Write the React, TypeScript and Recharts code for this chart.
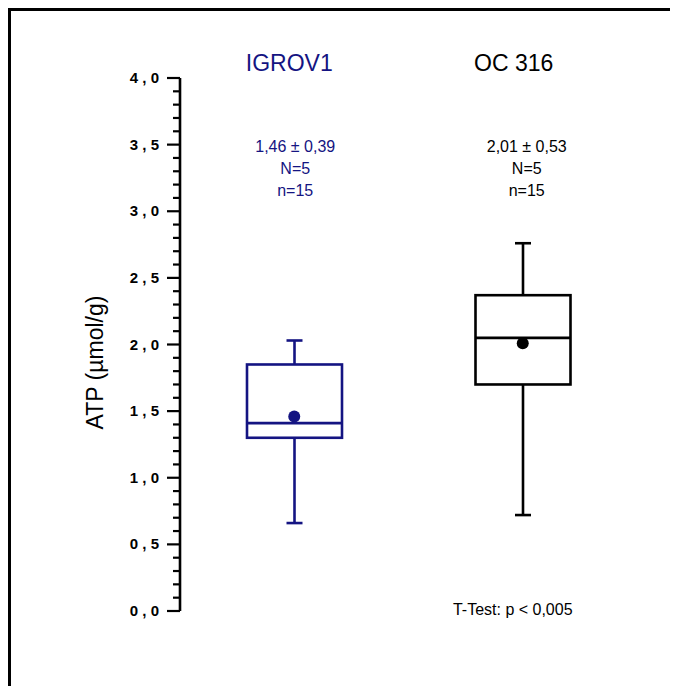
import React from "react";
import {
  ComposedChart,
  Bar,
  Scatter,
  XAxis,
  YAxis,
  ReferenceDot,
} from "recharts";

// cell lines
const categories = ["IGROV1", "OC 316"];
// box plot values (µmol/g)
const whiskerLow = [0.66, 0.72];
const q1 = [1.3, 1.7];
const median = [1.41, 2.05];
const q3 = [1.85, 2.37];
const whiskerHigh = [2.03, 2.76];
const means = [1.46, 2.01];
// annotation text above each box
const statLabels = ["1,46 ± 0,39", "2,01 ± 0,53"];
const bigN = ["N=5", "N=5"];
const smallN = ["n=15", "n=15"];
const testLabel = "T-Test: p < 0,005";
const yLabel = "ATP (µmol/g)";

const majorTicks = [0, 0.5, 1, 1.5, 2, 2.5, 3, 3.5, 4];
const allTicks: number[] = [];
for (let i = 0; i <= 40; i++) allTicks.push(i / 10);

const COLORS = ["#141482", "#000000"];
// small horizontal nudges for the header texts
const TITLE_DX = [-5, -9];
const STAT_DX = [1, 4];
const FONT = "'Liberation Sans', Arial, Helvetica, sans-serif";

const data = categories.map((name, i) => ({
  name,
  range: [whiskerLow[i], whiskerHigh[i]],
  low: whiskerLow[i],
  high: whiskerHigh[i],
  q1: q1[i],
  median: median[i],
  q3: q3[i],
  mean: means[i],
}));

function BoxShape(props: any) {
  const { x, y, width, height, payload, index } = props;
  const top = Math.min(y, y + height);
  const h = Math.abs(height);
  const { low, high } = payload;
  const py = (v: number) => top + ((high - v) / (high - low)) * h;
  const cx = x + width / 2;
  const color = COLORS[index] ?? "#000";
  const sw = 2.6;
  const cap = 8;
  return (
    <g>
      <line x1={cx} x2={cx} y1={py(high)} y2={py(low)} stroke={color} strokeWidth={sw} />
      <line x1={cx - cap} x2={cx + cap} y1={py(high)} y2={py(high)} stroke={color} strokeWidth={sw} />
      <line x1={cx - cap} x2={cx + cap} y1={py(low)} y2={py(low)} stroke={color} strokeWidth={sw} />
      <rect
        x={x}
        y={py(payload.q3)}
        width={width}
        height={py(payload.q1) - py(payload.q3)}
        fill="#fff"
        stroke={color}
        strokeWidth={sw}
      />
      <line x1={x} x2={x + width} y1={py(payload.median)} y2={py(payload.median)} stroke={color} strokeWidth={sw} />
    </g>
  );
}

function MeanDot(props: any) {
  const { cx, cy, index } = props;
  return <circle cx={cx} cy={cy} r={6} fill={COLORS[index] ?? "#000"} />;
}

function TopTick(props: any) {
  const { x, y, index } = props;
  const color = COLORS[index] ?? "#000";
  const sx = x + (STAT_DX[index] ?? 0);
  return (
    <g fontFamily={FONT} fill={color} textAnchor="middle">
      <text x={x + (TITLE_DX[index] ?? 0)} y={y - 7} fontSize={23}>
        {categories[index]}
      </text>
      <text x={sx} y={y + 74} fontSize={16}>
        {statLabels[index]}
      </text>
      <text x={sx} y={y + 96} fontSize={16}>
        {bigN[index]}
      </text>
      <text x={sx} y={y + 118} fontSize={16}>
        {smallN[index]}
      </text>
    </g>
  );
}

function LeftTick(props: any) {
  const { x, y, payload } = props;
  const v = payload.value as number;
  const isMajor = majorTicks.some((m) => Math.abs(m - v) < 1e-6);
  const label = v.toFixed(1).replace(".", ",");
  return (
    <g>
      <line x1={x - (isMajor ? 13 : 7)} x2={x} y1={y} y2={y} stroke="#000" strokeWidth={2.2} />
      {isMajor && (
        <text
          x={x - 21}
          y={y + 5}
          textAnchor="end"
          fontFamily={FONT}
          fontWeight="bold"
          fontSize="15px"
          fill="#000"
        >
          {label.split(",").join(" , ")}
        </text>
      )}
    </g>
  );
}

function YLabel(props: any) {
  const vb = props.viewBox || { x: 0, y: 70, width: 172, height: 533 };
  const cx = vb.x + 87;
  const cy = vb.y + vb.height / 2 + 18;
  return (
    <text
      x={cx}
      y={cy}
      transform={`rotate(-90, ${cx}, ${cy})`}
      textAnchor="middle"
      dominantBaseline="central"
      fontFamily={FONT}
      fontSize={23}
      fill="#000"
    >
      {yLabel}
    </text>
  );
}

function TestLabel(props: any) {
  const vb = props.viewBox || { x: 0, y: 0 };
  const cx = vb.x + (vb.width || 0) / 2 - 10;
  const cy = vb.y + (vb.height || 0) / 2 + 4;
  return (
    <text x={cx} y={cy} textAnchor="middle" fontFamily={FONT} fontSize={16} fill="#000">
      {testLabel}
    </text>
  );
}

export default function App() {
  return (
    <div
      style={{
        width: 670,
        height: 678,
        borderTop: "3px solid #000",
        borderLeft: "3px solid #000",
        boxSizing: "border-box",
        position: "relative",
        background: "#fff",
      }}
    >
      <div style={{ position: "absolute", top: -3, left: -3 }}>
        <ComposedChart
          width={670}
          height={678}
          data={data}
          margin={{ top: 30, right: 41, bottom: 75, left: 0 }}
        >
          <XAxis
            dataKey="name"
            orientation="top"
            height={40}
            axisLine={false}
            tickLine={false}
            tickSize={0}
            tickMargin={0}
            interval={0}
            tick={<TopTick />}
          />
          <YAxis
            type="number"
            domain={[0, 4]}
            ticks={allTicks}
            interval={0}
            width={172}
            tickSize={0}
            tickMargin={0}
            tickLine={false}
            axisLine={{ stroke: "#000", strokeWidth: 2.6 }}
            tick={<LeftTick />}
            label={<YLabel />}
          />
          <Bar
            dataKey="range"
            barSize={95}
            shape={<BoxShape />}
            isAnimationActive={false}
          />
          <Scatter dataKey="mean" shape={<MeanDot />} isAnimationActive={false} />
          <ReferenceDot
            x="OC 316"
            y={0}
            r={0}
            fill="none"
            stroke="none"
            ifOverflow="visible"
            label={<TestLabel />}
          />
        </ComposedChart>
      </div>
    </div>
  );
}
